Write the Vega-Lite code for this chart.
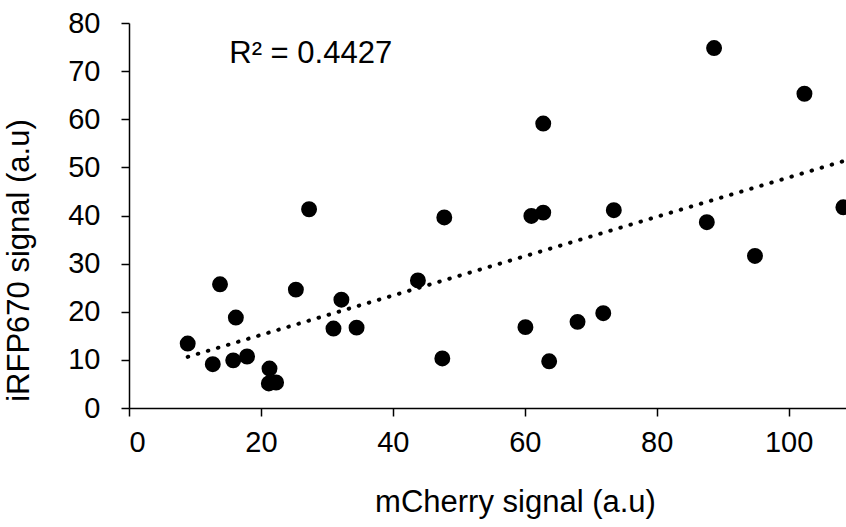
{
  "$schema": "https://vega.github.io/schema/vega-lite/v6.json",
  "width": 717,
  "height": 385,
  "autosize": "none",
  "padding": {"left": 129, "top": 23, "right": 0, "bottom": 119},
  "background": "white",
  "config": {
    "view": {"stroke": null},
    "font": "Liberation Sans",
    "axis": {
      "grid": false,
      "domainColor": "black",
      "domainWidth": 1.5,
      "tickColor": "black",
      "tickWidth": 1.5,
      "tickSize": 8,
      "labelFont": "Liberation Sans",
      "labelFontSize": 29,
      "labelColor": "black",
      "titleFont": "Liberation Sans",
      "titleFontSize": 31,
      "titleFontWeight": "normal",
      "titleColor": "black"
    }
  },
  "datasets": {
    "points": [
      {"mcherry": 8.9, "irfp": 13.4},
      {"mcherry": 12.7, "irfp": 9.1},
      {"mcherry": 13.8, "irfp": 25.7},
      {"mcherry": 16.2, "irfp": 18.8},
      {"mcherry": 15.8, "irfp": 9.9},
      {"mcherry": 17.9, "irfp": 10.7},
      {"mcherry": 21.3, "irfp": 8.2},
      {"mcherry": 21.2, "irfp": 5.1},
      {"mcherry": 22.3, "irfp": 5.3},
      {"mcherry": 25.3, "irfp": 24.6},
      {"mcherry": 27.3, "irfp": 41.3},
      {"mcherry": 31.0, "irfp": 16.5},
      {"mcherry": 32.2, "irfp": 22.5},
      {"mcherry": 34.5, "irfp": 16.7},
      {"mcherry": 43.8, "irfp": 26.5},
      {"mcherry": 47.8, "irfp": 39.6},
      {"mcherry": 47.5, "irfp": 10.3},
      {"mcherry": 61.0, "irfp": 39.9},
      {"mcherry": 62.8, "irfp": 40.6},
      {"mcherry": 60.1, "irfp": 16.8},
      {"mcherry": 63.7, "irfp": 9.7},
      {"mcherry": 68.0, "irfp": 17.9},
      {"mcherry": 71.9, "irfp": 19.7},
      {"mcherry": 73.5, "irfp": 41.1},
      {"mcherry": 87.6, "irfp": 38.6},
      {"mcherry": 94.9, "irfp": 31.6},
      {"mcherry": 108.3, "irfp": 41.7},
      {"mcherry": 88.7, "irfp": 74.8},
      {"mcherry": 102.4, "irfp": 65.3},
      {"mcherry": 62.8, "irfp": 59.1}
    ],
    "annotation": [
      {"mcherry": 15.2, "irfp": 73.5, "label": "R² = 0.4427"}
    ]
  },
  "layer": [
    {
      "data": {"name": "points"},
      "transform": [{"regression": "irfp", "on": "mcherry"}],
      "mark": {"type": "line", "color": "black", "strokeWidth": 4, "strokeCap": "round", "strokeDash": [0.5, 10], "clip": true},
      "encoding": {
        "x": {"field": "mcherry", "type": "quantitative"},
        "y": {"field": "irfp", "type": "quantitative"}
      }
    },
    {
      "data": {"name": "points"},
      "mark": {"type": "circle", "color": "black", "opacity": 1, "size": 254, "clip": false},
      "encoding": {
        "x": {
          "field": "mcherry",
          "type": "quantitative",
          "scale": {"domain": [0, 108.7], "nice": false, "zero": false},
          "axis": {
            "values": [0, 20, 40, 60, 80, 100],
            "title": "mCherry signal (a.u)",
            "labelPadding": 12,
            "titleX": 386,
            "titleY": 103,
            "titleBaseline": "alphabetic",
            "titleAlign": "center"
          }
        },
        "y": {
          "field": "irfp",
          "type": "quantitative",
          "scale": {"domain": [0, 80], "nice": false},
          "axis": {
            "values": [0, 10, 20, 30, 40, 50, 60, 70, 80],
            "title": "iRFP670 signal (a.u)",
            "labelPadding": 21,
            "titleX": -110,
            "titleY": 237,
            "titleBaseline": "middle",
            "titleAlign": "center"
          }
        }
      }
    },
    {
      "data": {"name": "annotation"},
      "mark": {"type": "text", "align": "left", "baseline": "middle", "fontSize": 31, "font": "Liberation Sans", "color": "black"},
      "encoding": {
        "x": {"field": "mcherry", "type": "quantitative"},
        "y": {"field": "irfp", "type": "quantitative"},
        "text": {"field": "label"}
      }
    }
  ]
}
